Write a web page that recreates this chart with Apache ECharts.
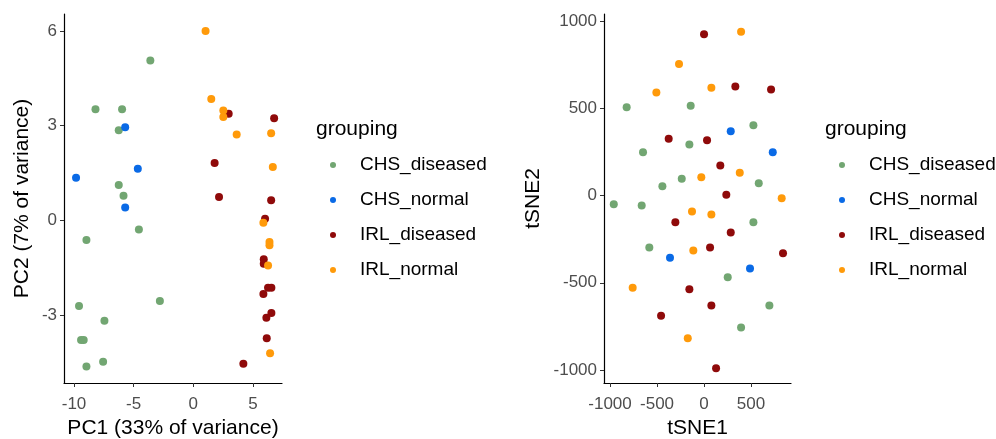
<!DOCTYPE html>
<html>
<head>
<meta charset="utf-8">
<script src="https://cdn.jsdelivr.net/npm/echarts@6/dist/echarts.min.js"></script>
<style>
  html, body { margin: 0; padding: 0; background: #fff; }
  #chart { width: 996px; height: 439px; }
</style>
</head>
<body>
<div id="chart"></div>
<script>
// groups, shared by both panels
const groups = ['CHS_diseased', 'CHS_normal', 'IRL_diseased', 'IRL_normal'];
const groupColors = ['#72a672', '#0a6ae6', '#8f0a0a', '#ff9a0a'];

// PCA panel: [PC1, PC2]
const pcaCHSdiseased = [[-3.6, 5.07], [-8.2, 3.52], [-5.97, 3.52], [-6.25, 2.86], [-6.25, 1.12], [-5.85, 0.78],
  [-4.56, -0.29], [-8.96, -0.62], [-2.8, -2.55], [-9.58, -2.71], [-7.45, -3.18], [-9.41, -3.79],
  [-9.19, -3.79], [-7.56, -4.48], [-8.96, -4.63]];
const pcaCHSnormal = [[-5.71, 2.95], [-4.65, 1.64], [-9.83, 1.35], [-5.71, 0.41]];
const pcaIRLdiseased = [[2.97, 3.38], [6.78, 3.24], [1.79, 1.82], [2.16, 0.74], [6.53, 0.64], [6.02, 0.05],
  [5.91, -1.23], [5.91, -1.37], [6.27, -2.13], [6.55, -2.13], [5.88, -2.33], [6.55, -2.93],
  [6.13, -3.08], [6.16, -3.73], [4.2, -4.54]];
const pcaIRLnormal = [[1.03, 6.0], [1.51, 3.85], [2.52, 3.48], [2.52, 3.28], [3.64, 2.72], [6.53, 2.76],
  [6.67, 1.69], [5.88, -0.07], [6.39, -0.68], [6.39, -0.79], [6.27, -1.43], [6.44, -4.21]];

// tSNE panel: [tSNE1, tSNE2]
const tsneCHSdiseased = [[-823, 506], [-142, 514], [525, 403], [-156, 292], [-649, 248], [-237, 96], [582, 70],
  [-443, 53], [-960, -50], [-663, -57], [525, -153], [-582, -298], [252, -468], [695, -630], [394, -756]];
const tsneCHSnormal = [[284, 368], [731, 248], [-362, -357], [489, -418]];
const tsneIRLdiseased = [[0, 924], [333, 624], [713, 607], [-376, 326], [32, 317], [173, 172], [237, 4],
  [-305, -153], [284, -212], [64, -298], [840, -330], [-156, -537], [78, -630], [-457, -689], [128, -989]];
const tsneIRLnormal = [[394, 939], [-266, 754], [-507, 590], [78, 617], [380, 130], [-29, 105], [826, -15],
  [-128, -92], [78, -109], [-114, -315], [-759, -529], [-173, -817]];

// tick labels
const pc1Ticks = [-10, -5, 0, 5];
const pc2Ticks = [-3, 0, 3, 6];
const tsne1Ticks = [-1000, -500, 0, 500];
const tsne2Ticks = [-1000, -500, 0, 500, 1000];

const pcaData = [pcaCHSdiseased, pcaCHSnormal, pcaIRLdiseased, pcaIRLnormal];
const tsneData = [tsneCHSdiseased, tsneCHSnormal, tsneIRLdiseased, tsneIRLnormal];

const font = 'Liberation Sans, Arial, sans-serif';

function makeAxis(gridIndex, min, max, ticks, name, nameGap, isY) {
  return {
    type: 'value',
    gridIndex: gridIndex,
    min: min,
    max: max,
    name: name,
    nameLocation: 'middle',
    nameGap: nameGap,
    nameTextStyle: { color: '#000', fontSize: 21, fontFamily: font },
    splitLine: { show: false },
    axisLine: { show: true, onZero: false, lineStyle: { color: '#000', width: 1.2 } },
    axisTick: { show: true, length: 4, customValues: ticks, lineStyle: { color: '#333' } },
    axisLabel: {
      customValues: ticks,
      formatter: v => String(v),
      color: '#4d4d4d',
      fontSize: 17,
      fontFamily: font,
      margin: isY ? 7 : 13,
      hideOverlap: false
    }
  };
}

function makeSeries(dataSets, axisIndex) {
  return dataSets.map((d, i) => ({
    name: groups[i],
    type: 'scatter',
    xAxisIndex: axisIndex,
    yAxisIndex: axisIndex,
    data: d,
    symbolSize: 8,
    itemStyle: { color: groupColors[i], opacity: 1 },
    emphasis: { disabled: true }
  }));
}

function makeLegend(left) {
  return {
    orient: 'vertical',
    left: left,
    top: 150,
    data: groups,
    icon: 'circle',
    itemWidth: 6,
    itemHeight: 6,
    itemGap: 15,
    textStyle: { color: '#000', fontSize: 19, lineHeight: 20, fontFamily: font, padding: [0, 0, 0, 19] },
    selectedMode: false
  };
}

const chart = echarts.init(document.getElementById('chart'));

chart.setOption({
  animation: false,
  title: [
    { text: 'grouping', left: 311, top: 114, textStyle: { color: '#000', fontSize: 21, fontWeight: 'normal', fontFamily: font } },
    { text: 'grouping', left: 820, top: 114, textStyle: { color: '#000', fontSize: 21, fontWeight: 'normal', fontFamily: font } }
  ],
  grid: [
    { left: 64, top: 14, width: 218, height: 369, outerBoundsMode: 'none' },
    { left: 604, top: 14, width: 187, height: 369, outerBoundsMode: 'none' }
  ],
  xAxis: [
    makeAxis(0, -10.84, 7.44, pc1Ticks, 'PC1 (33% of variance)', 35, false),
    makeAxis(1, -1064, 925, tsne1Ticks, 'tSNE1', 35, false)
  ],
  yAxis: [
    makeAxis(0, -5.15, 6.54, pc2Ticks, 'PC2 (7% of variance)', 31, true),
    makeAxis(1, -1074, 1040, tsne2Ticks, 'tSNE2', 60, true)
  ],
  legend: [makeLegend(325), makeLegend(834)],
  series: makeSeries(pcaData, 0).concat(makeSeries(tsneData, 1))
});
</script>
</body>
</html>
